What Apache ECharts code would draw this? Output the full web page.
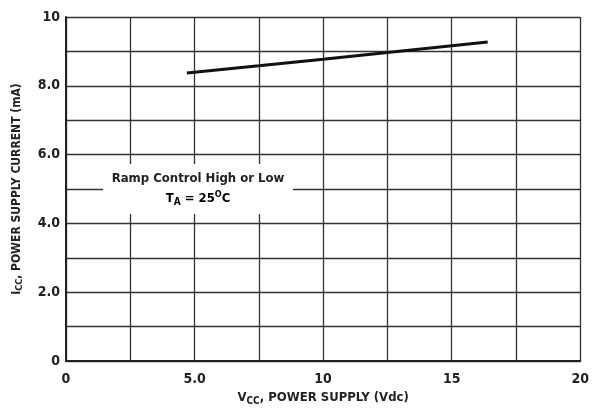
<!DOCTYPE html>
<html><head><meta charset="utf-8">
<script src="https://cdn.jsdelivr.net/npm/echarts@6/dist/echarts.min.js"></script>
<style>html,body{margin:0;padding:0;background:#fff}#c{width:592px;height:413px}</style>
</head><body><div id="c"></div>
<script>
const vccValues = [4.7, 7.5, 10, 12.5, 16.4];
const iccValues = [8.37, 8.58, 8.77, 8.97, 9.27];
const xTicks = {0:'0', 5:'5.0', 10:'10', 15:'15', 20:'20'};
const yTicks = {0:'0', 2:'2.0', 4:'4.0', 6:'6.0', 8:'8.0', 10:'10'};
const noteLine1 = 'Ramp Control High or Low';
const FONT = "'DejaVu Sans Condensed', 'Liberation Sans Narrow', sans-serif";
const INK = '#222';
const chart = echarts.init(document.getElementById('c'));
chart.setOption({
  backgroundColor: '#fff',
  animation: false,
  grid: {left: 66, right: 11, top: 17, bottom: 52},
  xAxis: {
    type: 'value', min: 0, max: 20, interval: 2.5,
    axisLine: {show: true, lineStyle: {color: INK, width: 2}},
    axisTick: {show: false},
    splitLine: {show: true, lineStyle: {color: '#333', width: 1.3}},
    axisLabel: {
      fontFamily: FONT, fontWeight: 'bold', fontSize: 14, color: INK, margin: 11,
      formatter: v => (xTicks[v] !== undefined ? xTicks[v] : '')
    },
    name: '{n|V}{s|CC}{n|, POWER SUPPLY (Vdc)}',
    nameLocation: 'middle', nameGap: 29,
    nameTextStyle: {
      rich: {
        n: {fontFamily: FONT, fontWeight: 'bold', fontSize: 13, color: INK},
        s: {fontFamily: FONT, fontWeight: 'bold', fontSize: 10, color: INK, verticalAlign: 'bottom', padding: [6, 0, 0, 0]}
      }
    }
  },
  yAxis: {
    type: 'value', min: 0, max: 10, interval: 1,
    axisLine: {show: true, lineStyle: {color: INK, width: 2}},
    axisTick: {show: false},
    splitLine: {show: true, lineStyle: {color: '#333', width: 1.3}},
    axisLabel: {
      fontFamily: FONT, fontWeight: 'bold', fontSize: 14, color: INK, margin: 6,
      formatter: v => (yTicks[v] !== undefined ? yTicks[v] : '')
    },
    name: '{n|I}{s|CC}{n|, POWER SUPPLY CURRENT (mA)}',
    nameLocation: 'middle', nameGap: 42,
    nameTextStyle: {
      rich: {
        n: {fontFamily: FONT, fontWeight: 'bold', fontSize: 12, color: INK},
        s: {fontFamily: FONT, fontWeight: 'bold', fontSize: 9, color: INK, verticalAlign: 'bottom', padding: [6, 0, 0, 0]}
      }
    }
  },
  series: [{
    type: 'line', data: vccValues.map((x, i) => [x, iccValues[i]]),
    showSymbol: false, lineStyle: {color: '#111', width: 3}
  }],
  graphic: [
    {type: 'rect', z: 100, shape: {x: 103, y: 164, width: 190, height: 50}, style: {fill: '#fff'}},
    {type: 'text', z: 101, x: 198, y: 172, style: {text: noteLine1, fontFamily: FONT, fontWeight: 'bold', fontSize: 13, fill: INK, textAlign: 'center'}},
    {type: 'text', z: 101, x: 198, y: 190, style: {
      text: '{n|T}{s|A}{n| = 25}{u|O}{n|C}', textAlign: 'center',
      rich: {
        n: {fontFamily: FONT, fontWeight: 'bold', fontSize: 13, color: INK},
        s: {fontFamily: FONT, fontWeight: 'bold', fontSize: 10, color: INK, verticalAlign: 'bottom', padding: [7, 0, 0, 0]},
        u: {fontFamily: FONT, fontWeight: 'bold', fontSize: 9, color: INK, verticalAlign: 'top', padding: [0, 0, 6, 0]}
      }
    }}
  ]
});
</script></body></html>
